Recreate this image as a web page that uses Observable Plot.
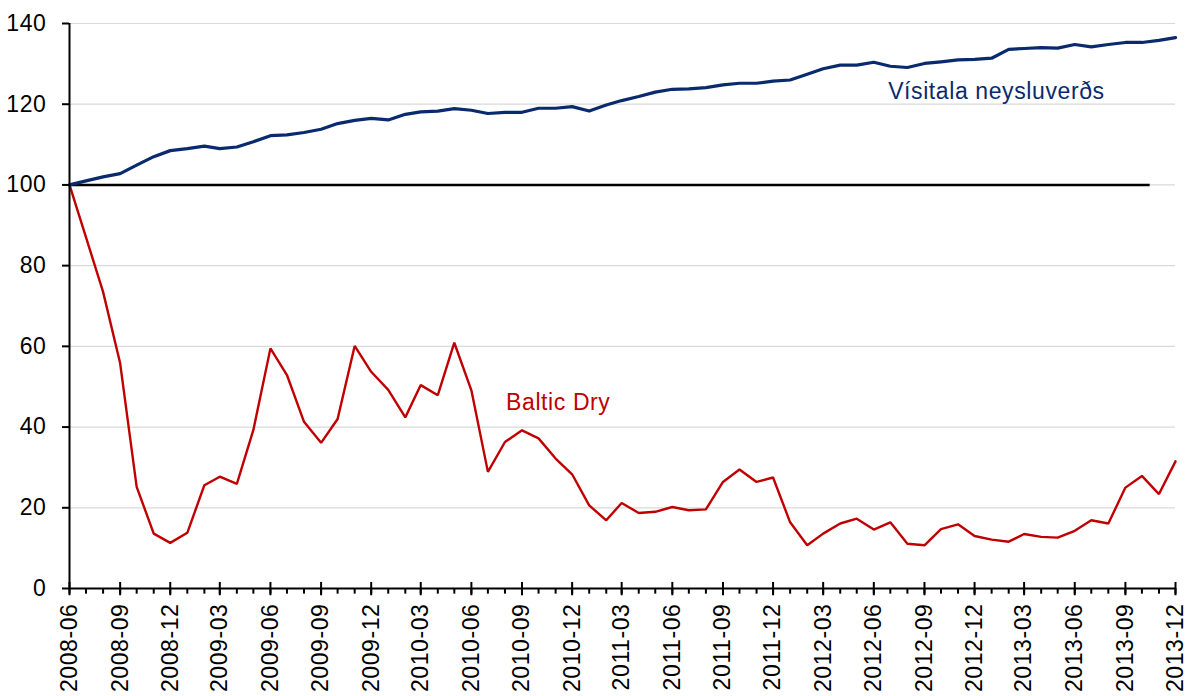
<!DOCTYPE html>
<html>
<head>
<meta charset="utf-8">
<script src="https://cdn.jsdelivr.net/npm/d3@7"></script>
<script src="https://cdn.jsdelivr.net/npm/@observablehq/plot@0.6"></script>
<style>
  html, body { margin: 0; padding: 0; background: #fff; }
  #chart svg text { letter-spacing: 0.6px; }
  #chart svg text.series-label { letter-spacing: 0.9px; }
</style>
</head>
<body>
<div id="chart"></div>
<script>
const months = [
  "2008-06","2008-07","2008-08","2008-09","2008-10","2008-11","2008-12",
  "2009-01","2009-02","2009-03","2009-04","2009-05","2009-06","2009-07","2009-08","2009-09","2009-10","2009-11","2009-12",
  "2010-01","2010-02","2010-03","2010-04","2010-05","2010-06","2010-07","2010-08","2010-09","2010-10","2010-11","2010-12",
  "2011-01","2011-02","2011-03","2011-04","2011-05","2011-06","2011-07","2011-08","2011-09","2011-10","2011-11","2011-12",
  "2012-01","2012-02","2012-03","2012-04","2012-05","2012-06","2012-07","2012-08","2012-09","2012-10","2012-11","2012-12",
  "2013-01","2013-02","2013-03","2013-04","2013-05","2013-06","2013-07","2013-08","2013-09","2013-10","2013-11","2013-12"
];

// Vísitala neysluverðs (consumer price index, 2008-06 = 100)
const cpi = [
  100, 101.0, 102.0, 102.8, 104.9, 107.0, 108.5, 109.0, 109.6, 109.0,
  109.4, 110.7, 112.2, 112.4, 113.0, 113.8, 115.2, 116.0, 116.5, 116.1,
  117.5, 118.1, 118.3, 118.9, 118.5, 117.7, 118.0, 118.0, 119.0, 119.0,
  119.4, 118.3, 119.8, 120.9, 121.9, 123.0, 123.7, 123.8, 124.1, 124.8,
  125.2, 125.2, 125.7, 126.0, 127.4, 128.8, 129.7, 129.7, 130.4, 129.4,
  129.1, 130.1, 130.5, 131.0, 131.1, 131.4, 133.6, 133.8, 134.0, 133.9,
  134.8, 134.2, 134.8, 135.3, 135.3, 135.8, 136.5
];

// Baltic Dry index (2008-06 = 100)
const balticDry = [
  100, 87.0, 73.5, 55.8, 25.2, 13.6, 11.3, 13.8, 25.6, 27.7,
  25.9, 39.3, 59.5, 52.9, 41.3, 36.1, 42.0, 60.1, 53.7, 49.2,
  42.4, 50.4, 47.9, 60.9, 49.1, 28.9, 36.3, 39.2, 37.2, 32.2,
  28.3, 20.6, 16.9, 21.2, 18.7, 19.0, 20.2, 19.4, 19.6, 26.4,
  29.5, 26.4, 27.5, 16.4, 10.7, 13.6, 16.1, 17.3, 14.6, 16.4,
  11.1, 10.7, 14.7, 15.9, 13.0, 12.1, 11.6, 13.5, 12.8, 12.6,
  14.3, 16.9, 16.1, 25.0, 27.9, 23.4, 31.5
];

const tickMonths = [
  "2008-06","2008-09","2008-12","2009-03","2009-06","2009-09","2009-12",
  "2010-03","2010-06","2010-09","2010-12","2011-03","2011-06","2011-09","2011-12",
  "2012-03","2012-06","2012-09","2012-12","2013-03","2013-06","2013-09","2013-12"
];
const yTicks = [0, 20, 40, 60, 80, 100, 120, 140];

const baselineValue = 100;
const baselineStart = "2008-06-01";
const baselineEnd = "2013-10-16";

const seriesLabels = [
  {text: "Vísitala neysluverðs", date: "2012-06-27", value: 123.2, color: "#0a2a6e"},
  {text: "Baltic Dry", date: "2010-08-03", value: 46.1, color: "#c00000"}
];

const parseMonth = d3.utcParse("%Y-%m");
const parseDay = d3.utcParse("%Y-%m-%d");
const data = months.map((m, i) => ({date: parseMonth(m), cpi: cpi[i], bdi: balticDry[i]}));
const tickDates = tickMonths.map(parseMonth);
const labelData = seriesLabels.map(d => ({...d, date: parseDay(d.date)}));

const navy = "#0a2a6e";
const red = "#c00000";

const plot = Plot.plot({
  width: 1193,
  height: 696,
  marginLeft: 69,
  marginRight: 18,
  marginTop: 23,
  marginBottom: 108,
  style: {
    fontFamily: '"Liberation Sans", Arial, sans-serif',
    fontSize: "23px",
    background: "#fff",
    color: "#000",
    overflow: "visible"
  },
  x: {type: "utc", domain: [parseMonth(months[0]), parseMonth(months[months.length - 1])]},
  y: {domain: [0, 140]},
  marks: [
    Plot.gridY(yTicks.slice(1), {stroke: "#d9d9d9", strokeOpacity: 1, strokeWidth: 1.2}),
    Plot.ruleY([baselineValue], {x1: parseDay(baselineStart), x2: parseDay(baselineEnd), stroke: "#000", strokeWidth: 2.4}),
    Plot.lineY(data, {x: "date", y: "bdi", stroke: red, strokeWidth: 2.4, strokeLinejoin: "miter"}),
    Plot.lineY(data, {x: "date", y: "cpi", stroke: navy, strokeWidth: 3.2, strokeLinejoin: "round"}),
    // axis lines
    Plot.ruleX([parseMonth(months[0])], {y1: 0, y2: 140, stroke: "#000", strokeWidth: 2}),
    Plot.ruleY([0], {stroke: "#000", strokeWidth: 2}),
    // minor (monthly) ticks below axis
    Plot.ruleX(data, {x: "date", y1: 0, y2: -1.4, stroke: "#000", strokeWidth: 2}),
    // major (quarterly) ticks crossing the axis
    Plot.ruleX(tickDates, {x: d => d, y1: 1.5, y2: -1.8, stroke: "#000", strokeWidth: 2}),
    Plot.axisX(tickDates, {
      tickSize: 0, tickPadding: 15, tickRotate: -90,
      tickFormat: d3.utcFormat("%Y-%m"), label: null, fontSize: 23, fill: "#000"
    }),
    Plot.axisY(yTicks, {
      tickSize: 7, tickPadding: 16, label: null, fontSize: 23,
      stroke: "#000", strokeWidth: 2, fill: "#000"
    }),
    Plot.text(labelData, {
      x: "date", y: "value", text: "text", fill: "color",
      textAnchor: "start", fontSize: 23, className: "series-label"
    })
  ]
});

document.getElementById("chart").appendChild(plot);
</script>
</body>
</html>
